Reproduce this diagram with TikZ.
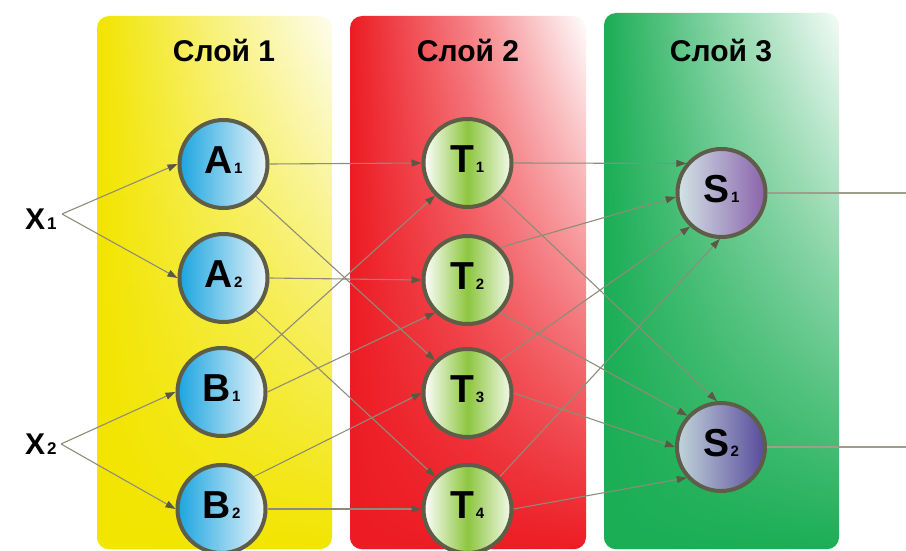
\documentclass[tikz,border=0pt]{standalone}
\usepackage{fontspec}
\setmainfont{Liberation Sans}
\usetikzlibrary{arrows.meta,fadings}

% layer panel colours
\definecolor{layY}{HTML}{F2E500}
\definecolor{layR}{HTML}{ED1C24}
\definecolor{layG}{HTML}{1BAE55}
% neuron and wiring colours
\definecolor{ringc}{HTML}{5E5D48}
\definecolor{wirec}{HTML}{8E8C78}
\definecolor{tipc}{HTML}{5A5944}
\definecolor{ablue}{HTML}{1BA5E0}
\definecolor{ablueR}{HTML}{EAF4FA}
\definecolor{tgreen}{HTML}{8DC63F}
\definecolor{sleftA}{HTML}{D2E4E6}
\definecolor{srightA}{HTML}{8A62AC}
\definecolor{sleftB}{HTML}{C2D5DA}
\definecolor{srightB}{HTML}{584A9C}

% letter with a small index on the same baseline
\newcommand{\nlab}[2]{{\fontsize{39pt}{39pt}\selectfont\bfseries #1}\kern1.5pt{\fontsize{15pt}{15pt}\selectfont\bfseries #2}}
\newcommand{\xlab}[2]{{\fontsize{30pt}{30pt}\selectfont\bfseries #1}\kern2pt{\fontsize{17pt}{17pt}\selectfont\bfseries #2}}

\begin{document}
\begin{tikzpicture}[x=1pt,y=-1pt,
  neuron/.style={circle, inner sep=0pt, minimum size=88pt, line width=4pt,
    draw=ringc, text height=18pt, text depth=0pt},
  aunit/.style={neuron, left color=ablue, right color=ablueR},
  tunit/.style={neuron, left color=white, right color=tgreen!10!white, middle color=tgreen},
  sunitA/.style={neuron, left color=sleftA, right color=srightA},
  sunitB/.style={neuron, left color=sleftB, right color=srightB},
  wire/.style={draw=wirec, line width=1.1pt,
    -{Triangle[length=10pt,width=7pt,color=tipc]}},
  outwire/.style={draw=wirec!85, line width=1.1pt},
  layertitle/.style={font=\fontsize{30pt}{30pt}\selectfont\bfseries, anchor=base, inner sep=0pt},
  panel/.style={rounded corners=12pt},
]
\useasboundingbox (0,0) rectangle (906,551);

% ---- layer panels: left-to-right fade, saturated towards the bottom
\path[panel, left color=layY, right color=layY!6!white, middle color=layY!50!white]
  (97,16) rectangle (332,549);
\fill[panel, layY, path fading=north] (97,16) rectangle (332,549);

\path[panel, left color=layR, right color=white, middle color=layR!55!white]
  (350,16) rectangle (586,549);
\fill[panel, layR, path fading=north] (350,16) rectangle (586,549);

\path[panel, left color=layG, right color=layG!4!white, middle color=layG!50!white]
  (604,13) rectangle (839,549);
\fill[panel, layG, path fading=north] (604,13) rectangle (839,549);

% ---- titles
\node[layertitle] (title1) at (224,62) {Слой 1};
\node[layertitle] (title2) at (468,62) {Слой 2};
\node[layertitle] (title3) at (721,62) {Слой 3};

% ---- inputs
\node[anchor=base west, inner sep=0pt] (x1lab) at (25,229) {\xlab{X}{1}};
\node[anchor=base west, inner sep=0pt] (x2lab) at (25,454) {\xlab{X}{2}};
\coordinate (x1p) at (62,214);
\coordinate (x2p) at (61,444);

% ---- neurons
\node[aunit] (A1) at (223.5,164) {\nlab{A}{1}};
\node[aunit] (A2) at (223.5,278) {\nlab{A}{2}};
\node[aunit] (B1) at (221.5,392) {\nlab{B}{1}};
\node[aunit] (B2) at (221.5,509) {\nlab{B}{2}};

\node[tunit] (T1) at (467.5,163) {\nlab{T}{1}};
\node[tunit] (T2) at (467.5,280) {\nlab{T}{2}};
\node[tunit] (T3) at (467.5,393) {\nlab{T}{3}};
\node[tunit] (T4) at (467.5,509) {\nlab{T}{4}};

\node[sunitA] (S1) at (721.5,193) {\nlab{S}{1}};
\node[sunitB] (S2) at (721,447) {\nlab{S}{2}};

\coordinate (o1) at (906,193);
\coordinate (o2) at (906,447);

% ---- connections
\draw[wire] (x1p) -- (A1.west);
\draw[wire] (x1p) -- (A2.west);
\draw[wire] (x2p) -- (B1.west);
\draw[wire] (x2p) -- (B2.west);

\draw[wire] (A1.east) -- (T1.west);
\draw[wire] (A1.south east) -- (T3.north west);
\draw[wire] (A2.east) -- (T2.west);
\draw[wire] (A2.south east) -- (T4.north west);
\draw[wire] (B1.north east) -- (T1.south west);
\draw[wire] (B1.east) -- (T2.south west);
\draw[wire] (B2.north east) -- (T3.west);
\draw[wire] (B2.east) -- (T4.west);

\draw[wire] (T1.east) -- (S1.140);
\draw[wire] (T1.south east) -- (S2.95);
\draw[wire] (T2.north east) -- (S1.185);
\draw[wire] (T2.south east) -- (S2.137);
\draw[wire] (T3.north east) -- (S1.227);
\draw[wire] (T3.east) -- (S2.west);
\draw[wire] (T4.north east) -- (S1.268);
\draw[wire] (T4.east) -- (S2.222);

\draw[outwire] (S1.east) -- (o1);
\draw[outwire] (S2.east) -- (o2);
\end{tikzpicture}
\end{document}
